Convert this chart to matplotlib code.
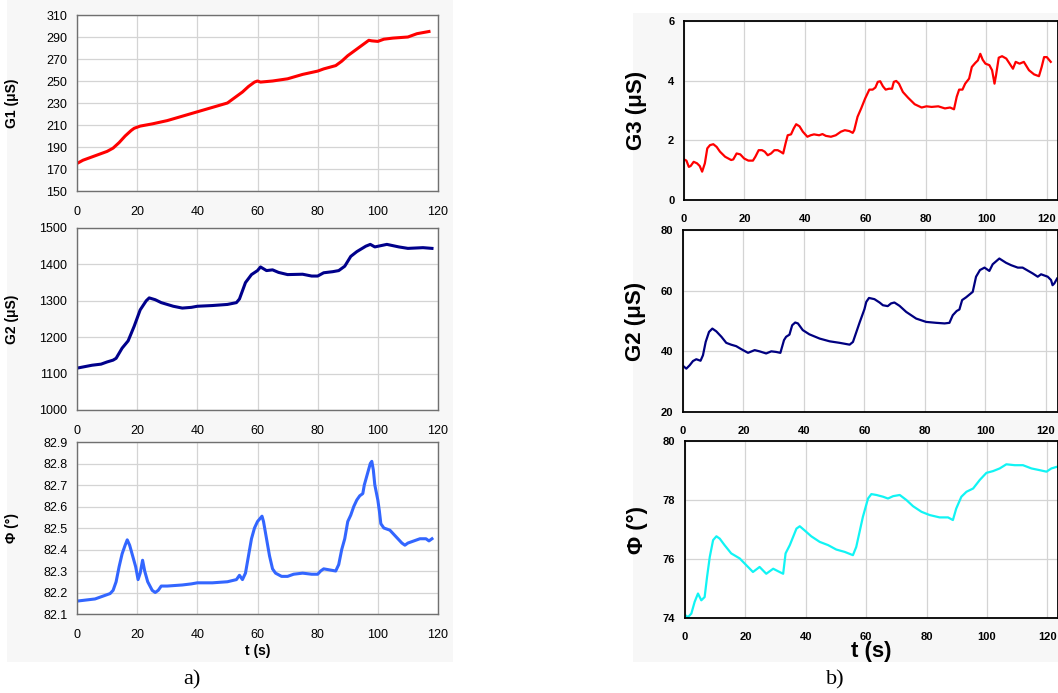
import matplotlib
matplotlib.use('Agg')
import matplotlib.pyplot as plt
import numpy as np

plt.rcParams['font.family'] = ['Liberation Sans', 'DejaVu Sans']

# ---- panel a) ----
t_g1 = [0, 2, 5, 8, 10, 12, 14, 16, 18, 19, 20, 21, 25, 30, 35, 40, 45, 50, 52, 55, 57, 59, 60, 61,
        65, 70, 75, 80, 82, 86, 88, 90, 93, 95, 97, 98, 100, 102, 105, 110, 113, 117]
g1 = [175, 178, 181, 184, 186, 189, 194, 200, 205, 207, 208, 209, 211, 214, 218, 222, 226, 230, 234,
      240, 245, 249, 250, 249, 250, 252, 256, 259, 261, 264, 268, 273, 279, 283, 287, 286.5, 286, 288,
      289, 290, 293, 295]

t_g2a = [0, 5, 8, 10, 12, 13, 15, 17, 19, 21, 23, 24, 26, 28, 32, 35, 38, 40, 45, 50, 53, 54, 56, 58,
         60, 61, 62, 63, 65, 67, 70, 75, 78, 80, 82, 85, 87, 89, 91, 93, 96, 97.5, 99, 103, 107, 110,
         115, 118]
g2a = [1115, 1123, 1126, 1132, 1137, 1142, 1170, 1190, 1230, 1275, 1300, 1308, 1303, 1295, 1285, 1280,
       1282, 1285, 1287, 1290, 1295, 1305, 1350, 1372, 1383, 1393, 1388, 1383, 1385, 1378, 1372, 1373,
       1368, 1368, 1377, 1380, 1383, 1395, 1422, 1435, 1450, 1455, 1448, 1455, 1448, 1444, 1446, 1444]

t_phia = [0, 3, 6, 9, 11, 12, 13, 14, 15, 16, 16.7, 17.5, 18.5, 19.5, 20.3, 21, 21.8, 22.5, 23.5, 25,
          26, 27, 28, 30, 35, 38, 40, 45, 50, 53, 54, 55, 56, 57, 58, 59, 60, 61.5, 62, 63, 64, 65, 66,
          68, 70, 72, 75, 78, 80, 81, 82, 84, 86, 87, 88, 89, 90, 91, 92, 93, 94, 95, 95.5, 96.5, 97.5,
          98, 98.5, 99, 100, 100.5, 101, 102, 104, 106, 108, 109, 110, 112, 114, 116, 117, 118]
phia = [82.16, 82.165, 82.17, 82.185, 82.195, 82.21, 82.25, 82.32, 82.38, 82.42, 82.445, 82.42, 82.37,
        82.32, 82.26, 82.29, 82.35, 82.3, 82.25, 82.21, 82.2, 82.21, 82.23, 82.23, 82.235, 82.24, 82.245,
        82.245, 82.25, 82.26, 82.28, 82.26, 82.29, 82.37, 82.45, 82.5, 82.53, 82.555, 82.53, 82.45,
        82.37, 82.31, 82.29, 82.275, 82.275, 82.285, 82.29, 82.285, 82.285, 82.3, 82.31, 82.305, 82.3,
        82.33, 82.4, 82.45, 82.53, 82.56, 82.6, 82.63, 82.65, 82.66, 82.7, 82.75, 82.8, 82.81, 82.77,
        82.7, 82.63, 82.58, 82.52, 82.5, 82.49, 82.46, 82.43, 82.42, 82.43, 82.44, 82.45, 82.45, 82.44,
        82.45]

# ---- panel b) ----
t_g3 = [0, 0.8, 1.6, 2.2, 3.2, 4.3, 5.2, 6.0, 6.9, 7.7, 8.6, 9.7, 10.8, 11.9, 13.6, 15.6, 16.3, 17.4,
        18.6, 19.9, 21.3, 22.8, 23.6, 24.7, 25.8, 26.7, 27.7, 28.8, 29.9, 31.0, 31.9, 32.8, 33.6, 34.3,
        35.4, 36.3, 37.1, 38.2, 39.3, 40.8, 41.9, 43.0, 44.7, 45.8, 46.9, 48.6, 50.2, 51.9, 53.2, 54.7,
        55.8, 56.3, 57.4, 58.6, 59.9, 61.3, 62.4, 63.3, 64.1, 64.9, 65.8, 66.7, 67.8, 68.8, 69.4, 70.2,
        71.1, 72.4, 74.1, 76.3, 78.6, 80.2, 81.9, 84.1, 86.3, 88.0, 89.3, 90.2, 91.0, 92.1, 93.0, 94.3,
        95.2, 96.3, 97.2, 98.0, 98.8, 99.7, 101.0, 101.9, 102.7, 103.2, 104.1, 105.2, 106.6, 107.7,
        108.8, 109.7, 111.0, 112.4, 114.1, 115.8, 117.4, 118.3, 119.1, 120.0, 121.3]
g3 = [1.36, 1.32, 1.11, 1.14, 1.28, 1.23, 1.14, 0.95, 1.23, 1.73, 1.84, 1.87, 1.78, 1.62, 1.45, 1.34,
      1.36, 1.56, 1.53, 1.39, 1.32, 1.32, 1.45, 1.67, 1.67, 1.62, 1.5, 1.56, 1.67, 1.67, 1.62, 1.56, 1.9,
      2.17, 2.2, 2.4, 2.54, 2.47, 2.29, 2.12, 2.17, 2.2, 2.17, 2.21, 2.15, 2.12, 2.17, 2.29, 2.34, 2.31,
      2.25, 2.34, 2.79, 3.07, 3.4, 3.7, 3.7, 3.77, 3.96, 3.98, 3.81, 3.7, 3.73, 3.73, 3.96, 3.99, 3.9,
      3.62, 3.43, 3.21, 3.1, 3.14, 3.12, 3.14, 3.07, 3.1, 3.04, 3.46, 3.7, 3.7, 3.9, 4.07, 4.46, 4.59,
      4.68, 4.9, 4.7, 4.57, 4.52, 4.35, 3.9, 4.18, 4.77, 4.82, 4.74, 4.57, 4.4, 4.63, 4.57, 4.63, 4.35,
      4.21, 4.15, 4.46, 4.79, 4.79, 4.63]

t_g2b = [0, 1.1, 2.2, 3.3, 4.4, 5.8, 6.6, 7.5, 8.6, 9.7, 11.0, 12.7, 14.3, 15.9, 17.6, 19.3, 21.5, 23.7,
         25.3, 27.5, 29.2, 30.8, 32.2, 33.4, 34.1, 35.2, 36.1, 37.1, 38.0, 39.6, 41.8, 45.2, 48.5, 51.8,
         55.1, 56.2, 58.4, 60.0, 60.6, 61.5, 63.3, 65.0, 66.1, 67.7, 68.8, 69.9, 71.6, 73.8, 77.1, 80.4,
         83.7, 86.5, 88.1, 89.2, 90.5, 91.4, 92.3, 93.6, 94.7, 95.8, 96.9, 98.2, 99.7, 101.3, 102.4,
         104.6, 106.8, 108.5, 110.7, 112.3, 115.6, 117.3, 118.4, 120.6, 121.7, 122.2, 122.8, 123.7]
g2b = [35.2, 34.3, 35.4, 36.8, 37.4, 36.9, 38.7, 43.1, 46.4, 47.5, 46.6, 44.8, 42.8, 42.2, 41.7, 40.7,
       39.5, 40.4, 40.0, 39.3, 40.0, 39.8, 39.5, 43.7, 44.8, 45.5, 48.6, 49.5, 49.2, 47.0, 45.6, 44.2,
       43.3, 42.8, 42.2, 43.1, 49.5, 53.9, 56.3, 57.6, 57.2, 56.1, 55.2, 54.9, 55.8, 56.1, 55.0, 53.0,
       50.8, 49.7, 49.4, 49.2, 49.4, 51.9, 53.3, 53.8, 56.9, 57.8, 58.7, 59.6, 64.6, 66.8, 67.6, 66.5,
       68.7, 70.6, 69.2, 68.4, 67.6, 67.6, 65.7, 64.6, 65.4, 64.6, 63.5, 61.8, 62.4, 64.0]

t_phib = [0, 1.0, 2.1, 3.2, 4.3, 5.4, 6.5, 7.3, 8.2, 9.3, 10.4, 11.5, 13.1, 15.3, 18.1, 20.3, 22.5, 24.7,
          26.9, 29.2, 31.3, 32.5, 33.3, 34.7, 35.8, 36.9, 38.0, 39.6, 41.8, 44.6, 47.4, 50.1, 52.9, 55.6,
          56.7, 58.9, 60.6, 61.7, 63.4, 65.6, 67.2, 68.9, 71.1, 73.3, 75.5, 78.3, 81.0, 84.3, 87.1, 88.7,
          89.8, 91.5, 93.2, 95.4, 97.6, 99.8, 102.0, 104.2, 106.4, 109.2, 111.9, 114.7, 117.5, 119.7,
          121.3, 123.3]
phib = [74.1, 74.03, 74.15, 74.55, 74.83, 74.6, 74.71, 75.39, 76.07, 76.64, 76.77, 76.69, 76.47, 76.19,
        76.02, 75.79, 75.56, 75.73, 75.5, 75.67, 75.56, 75.5, 76.19, 76.47, 76.75, 77.03, 77.11, 76.97,
        76.77, 76.58, 76.47, 76.32, 76.24, 76.13, 76.41, 77.43, 78.05, 78.2, 78.17, 78.11, 78.05, 78.13,
        78.17, 78.0, 77.79, 77.6, 77.49, 77.41, 77.41, 77.32, 77.71, 78.11, 78.28, 78.39, 78.68, 78.92,
        78.98, 79.07, 79.21, 79.18, 79.18, 79.07, 79.01, 78.96, 79.07, 79.13]

W, H = 1058, 693
fig = plt.figure(figsize=(W / 100, H / 100), dpi=100)
fig.patch.set_facecolor('white')


def px_axes(x0, y0, x1, y1):
    return fig.add_axes([x0 / W, 1 - y1 / H, (x1 - x0) / W, (y1 - y0) / H])


# light gray panel backgrounds
for (x0, y0, x1, y1) in [(7, 0, 453, 662), (633, 13, 1058, 662)]:
    fig.patches.append(plt.Rectangle((x0 / W, 1 - y1 / H), (x1 - x0) / W, (y1 - y0) / H,
                                     transform=fig.transFigure, facecolor='#f7f7f7',
                                     edgecolor='none', zorder=-10))


def style(ax, spine_col, spine_w, tick_size, bold, xpad):
    ax.set_facecolor('white')
    ax.grid(True, color='#d4d4d4', linewidth=0.9)
    ax.set_axisbelow(True)
    for s in ax.spines.values():
        s.set_color(spine_col)
        s.set_linewidth(spine_w)
    ax.tick_params(length=0, pad=7, labelsize=tick_size, colors='black')
    ax.tick_params(axis='x', pad=xpad)
    if bold:
        for lbl in ax.get_xticklabels() + ax.get_yticklabels():
            lbl.set_fontweight('bold')


# panel a
a1 = px_axes(77, 15, 438, 191)
a1.plot(t_g1, g1, color='#ff0000', lw=2.2)
a1.set_xlim(0, 120)
a1.set_ylim(150, 310)
a1.set_yticks(np.arange(150, 311, 20))
a1.set_xticks(np.arange(0, 121, 20))
style(a1, '#707070', 1.0, 9, False, 11)
a1.set_ylabel('G1 (\u03bcS)', fontsize=10, fontweight='bold')
a1.yaxis.set_label_coords(-0.16, 0.5)

a2 = px_axes(77, 228, 438, 410)
a2.plot(t_g2a, g2a, color='#00008b', lw=2.2)
a2.set_xlim(0, 120)
a2.set_ylim(1000, 1500)
a2.set_yticks(np.arange(1000, 1501, 100))
a2.set_xticks(np.arange(0, 121, 20))
style(a2, '#707070', 1.0, 9, False, 11)
a2.set_ylabel('G2 (\u03bcS)', fontsize=10, fontweight='bold')
a2.yaxis.set_label_coords(-0.16, 0.5)

a3 = px_axes(77, 442, 438, 614)
a3.plot(t_phia, phia, color='#3366ff', lw=2.2)
a3.set_xlim(0, 120)
a3.set_ylim(82.1, 82.9)
a3.set_yticks(np.round(np.arange(82.1, 82.91, 0.1), 1))
a3.set_xticks(np.arange(0, 121, 20))
style(a3, '#707070', 1.0, 9, False, 11)
a3.set_ylabel('\u03a6 (\u00b0)', fontsize=10, fontweight='bold')
a3.yaxis.set_label_coords(-0.16, 0.5)
a3.set_xlabel('t (s)', fontsize=10, fontweight='bold', labelpad=2)

# panel b
b1 = px_axes(684, 21, 1058, 200)
b1.plot(t_g3, g3, color='#ff0000', lw=1.6)
b1.set_xlim(0, 123.7)
b1.set_ylim(0, 6)
b1.set_yticks([0, 2, 4, 6])
b1.set_xticks(np.arange(0, 121, 20))
style(b1, 'black', 1.3, 8, True, 10)
b1.set_ylabel('G3 (\u03bcS)', fontsize=16, fontweight='bold')
b1.yaxis.set_label_coords(-0.1, 0.5)

b2 = px_axes(683, 230, 1058, 412)
b2.plot(t_g2b, g2b, color='#000080', lw=1.6)
b2.set_xlim(0, 124)
b2.set_ylim(20, 80)
b2.set_yticks([20, 40, 60, 80])
b2.set_xticks(np.arange(0, 121, 20))
style(b2, 'black', 1.3, 8, True, 10)
b2.set_ylabel('G2 (\u03bcS)', fontsize=16, fontweight='bold')
b2.yaxis.set_label_coords(-0.1, 0.5)

b3 = px_axes(685, 441, 1058, 618)
b3.plot(t_phib, phib, color='#11f4f4', lw=1.6)
b3.set_xlim(0, 123.5)
b3.set_ylim(74, 80)
b3.set_yticks([74, 76, 78, 80])
b3.set_xticks(np.arange(0, 121, 20))
style(b3, 'black', 1.3, 8, True, 10)
b3.set_ylabel('\u03a6 (\u00b0)', fontsize=16, fontweight='bold')
b3.yaxis.set_label_coords(-0.1, 0.5)
b3.set_xlabel('t (s)', fontsize=16, fontweight='bold', labelpad=-1)

fig.text(192 / W, 1 - 680 / H, 'a)', fontsize=16, family='Liberation Serif', ha='center', va='center')
fig.text(835 / W, 1 - 680 / H, 'b)', fontsize=16, family='Liberation Serif', ha='center', va='center')

fig.savefig('out.png', dpi=100)
